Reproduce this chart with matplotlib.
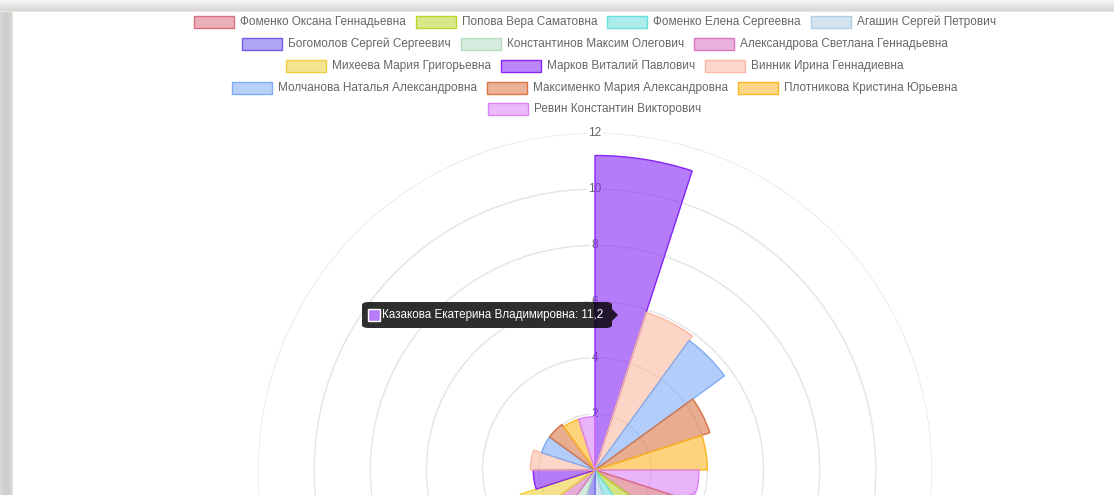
import numpy as np
import matplotlib
matplotlib.use("Agg")
import matplotlib.pyplot as plt
from matplotlib.patches import Rectangle, FancyBboxPatch, Polygon

plt.rcParams['font.family'] = ['Liberation Sans', 'DejaVu Sans']

# данные: 20 секторов, по часовой стрелке от верха
# первые шесть подписей легенды обрезаны скриншотом, известна только первая
labels = ["Казакова Екатерина Владимировна", "", "", "", "", "",
          "Фоменко Оксана Геннадьевна", "Попова Вера Саматовна",
          "Фоменко Елена Сергеевна", "Агашин Сергей Петрович",
          "Богомолов Сергей Сергеевич", "Константинов Максим Олегович",
          "Александрова Светлана Геннадьевна", "Михеева Мария Григорьевна",
          "Марков Виталий Павлович", "Винник Ирина Геннадиевна",
          "Молчанова Наталья Александровна", "Максименко Мария Александровна",
          "Плотникова Кристина Юрьевна", "Ревин Константин Викторович"]
values = [11.2, 5.9, 5.7, 4.3, 4.0, 3.7,
          3.4, 2.6, 2.4, 2.0, 2.3, 2.2, 2.5, 2.8,
          2.2, 2.3, 2.0, 2.0, 1.9, 1.9]
palette = ["#8525f7", "#fbb9a2", "#7facf5", "#d97544", "#fdb725", "#dc82f8",
           "#d96e7f", "#bbd52a", "#69dfdc", "#afcfe4", "#6e5dee", "#b6dcc3",
           "#da76c1", "#edcf3c"]
r_ticks = [2, 4, 6, 8, 10, 12]
legend_rows = [[6, 7, 8, 9], [10, 11, 12], [13, 14, 15], [16, 17, 18], [19]]
tooltip_idx = 0

W, H = 1114, 495
fig = plt.figure(figsize=(W / 100, H / 100), dpi=100)

def fx(x):
    return x / W

def fy(y):
    return 1 - y / H

# фон с тенью окна
bg = np.ones((H, W, 3))
for i in range(11):
    bg[i, :, :] = (244 - i * 2.8) / 255
bg[11, :, :] = np.array([233, 229, 217]) / 255
for j in range(12):
    shade = 218 - 12 * np.sin(np.pi * j / 12)
    bg[12:, j, :] = shade / 255
bg[12:, 12, :] = np.array([233, 229, 217]) / 255
ax_bg = fig.add_axes([0, 0, 1, 1], zorder=-10)
ax_bg.imshow(bg, aspect='auto', extent=[0, W, H, 0])
ax_bg.axis('off')

# полярная диаграмма
cx, cy, R = 595, 470, 337
ax = fig.add_axes([fx(cx - R), fy(cy + R), 2 * R / W, 2 * R / H], projection='polar')
ax.set_facecolor('none')
ax.set_theta_zero_location('N')
ax.set_theta_direction(-1)
ax.set_ylim(0, 12)
ax.spines['polar'].set_visible(False)
ax.set_xticks([])
ax.set_yticks(r_ticks)
ax.set_yticklabels([])
ax.xaxis.grid(False)
ax.yaxis.grid(True, color='#e4e4e4', lw=1)
ax.set_axisbelow(True)

n = len(values)
step = 2 * np.pi / n
theta = np.arange(n) * step
colors = [palette[i % len(palette)] for i in range(n)]
ax.bar(theta, values, width=step, align='edge', bottom=0,
       color=colors, alpha=0.6, edgecolor='none', zorder=2)
ax.bar(theta, values, width=step, align='edge', bottom=0,
       color='none', edgecolor=colors, lw=1, zorder=2.1)

for t in r_ticks:
    ax.text(0, t, str(t), ha='center', va='center', color='#666666', fontsize=8.6,
            bbox=dict(fc='white', ec='none', pad=1.2), zorder=1)

# легенда
renderer = fig.canvas.get_renderer()
row_y = [22, 44, 66, 88, 109]
fs = 8.5
for row, yy in zip(legend_rows, row_y):
    widths = []
    for k in row:
        t = fig.text(0, 0, labels[k], fontsize=fs)
        widths.append(t.get_window_extent(renderer).width)
        t.remove()
    total = sum(46 + w for w in widths) + 10 * (len(row) - 1)
    x = cx - total / 2
    for k, w in zip(row, widths):
        c = palette[k % len(palette)]
        fig.patches.append(Rectangle((fx(x), fy(yy + 6)), 40 / W, 12 / H,
                                     transform=fig.transFigure, fc=c, alpha=0.55, ec='none'))
        fig.patches.append(Rectangle((fx(x), fy(yy + 6)), 40 / W, 12 / H,
                                     transform=fig.transFigure, fc='none', ec=c, lw=1))
        fig.text(fx(x + 46), fy(yy), labels[k], fontsize=fs, color='#666666',
                 ha='left', va='center')
        x += 46 + w + 10

# всплывающая подсказка
tip = f"{labels[tooltip_idx]}: {values[tooltip_idx]}".replace('.', ',')
bx0, bx1, by0, by1 = 362, 612, 302, 328
fig.patches.append(FancyBboxPatch((fx(bx0), fy(by1)), (bx1 - bx0) / W, (by1 - by0) / H,
                                  boxstyle="round,pad=0,rounding_size=0.006",
                                  transform=fig.transFigure, fc='#000000', alpha=0.82,
                                  ec='none', zorder=5))
fig.patches.append(Polygon([(fx(bx1), fy(309)), (fx(bx1 + 6), fy(315)), (fx(bx1), fy(321))],
                           closed=True, transform=fig.transFigure, fc='#000000',
                           alpha=0.82, ec='none', zorder=5))
fig.patches.append(Rectangle((fx(368), fy(321)), 12 / W, 12 / H, transform=fig.transFigure,
                             fc='#b77cfb', ec='white', lw=1, zorder=6))
fig.text(fx(382), fy(315), tip, fontsize=8.4, color='white', ha='left', va='center', zorder=7)

fig.savefig('out.png', dpi=100)
